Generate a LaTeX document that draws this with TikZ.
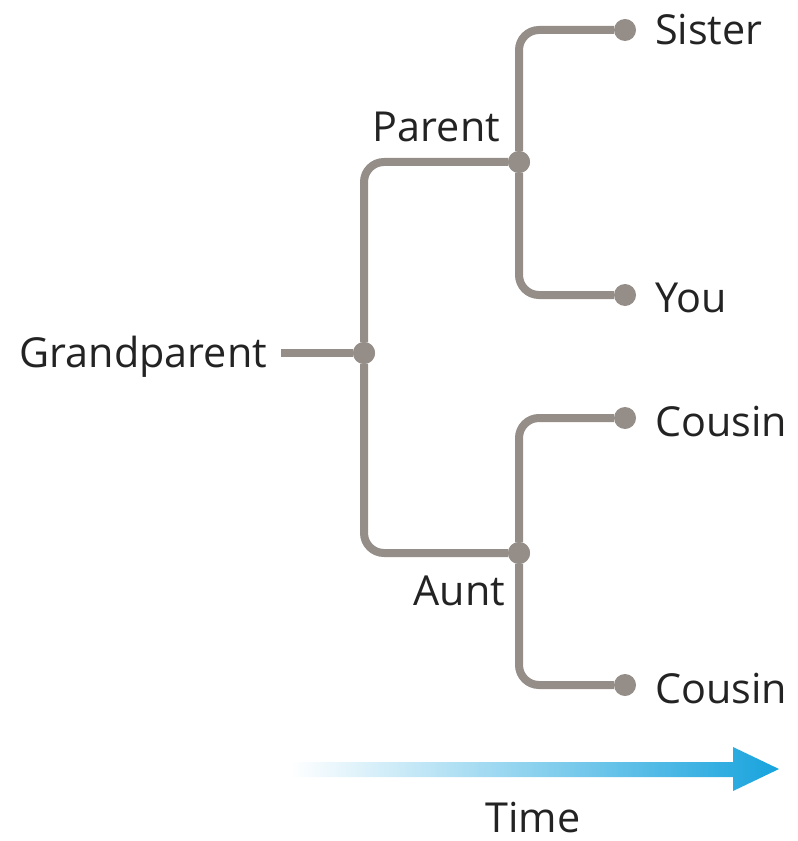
\documentclass[tikz,border=0pt]{standalone}
\usepackage{fontspec}
\setmainfont{Open Sans}
\definecolor{branchgray}{RGB}{148,141,136}
\definecolor{timeblue}{RGB}{23,163,221}
\definecolor{labelblack}{RGB}{35,35,35}

\begin{document}
\begin{tikzpicture}[x=0.75pt,y=-0.75pt,
  every node/.style={text=labelblack, font=\fontsize{31}{36}\selectfont, inner sep=0pt, outer sep=0pt},
  branch/.style={draw=branchgray, line width=6pt, rounded corners=15pt},
  dot/.style={circle, fill=branchgray, minimum size=16.5pt}]
\useasboundingbox (0,0) rectangle (797,841);

\node[dot] (gpj) at (364,353) {};
\node[dot] (pj) at (519,162) {};
\node[dot] (aj) at (519,553) {};
\node[dot] (sd) at (625,30) {};
\node[dot] (yd) at (625,295) {};
\node[dot] (c1d) at (625,418) {};
\node[dot] (c2d) at (625,685) {};

\node[anchor=base east, inner xsep=10.5pt] (gp) at (281,367) {Grandparent};
\node[anchor=base east] (parent) at (500,142) {Parent};
\node[anchor=base east] (aunt) at (505,605) {Aunt};
\node[anchor=base west] (sister) at (655,45) {Sister};
\node[anchor=base west] (you) at (655,312) {You};
\node[anchor=base west] (cousin1) at (655,436) {Cousin};
\node[anchor=base west] (cousin2) at (655,703) {Cousin};
\node[anchor=base] (time) at (533,832) {Time};

\draw[branch] (gp.east |- gpj) -- (gpj);
\draw[branch] (pj) -| (gpj) |- (aj);
\draw[branch] (sd) -| (pj) |- (yd);
\draw[branch] (c1d) -| (aj) |- (c2d);

\node[dot] at (gpj) {};
\node[dot] at (pj) {};
\node[dot] at (aj) {};

\shade[left color=white, right color=timeblue] (290,762) -- (733,762) -- (733,747) -- (779,769)
  -- (733,791) -- (733,777) -- (290,777) -- cycle;
\end{tikzpicture}
\end{document}
